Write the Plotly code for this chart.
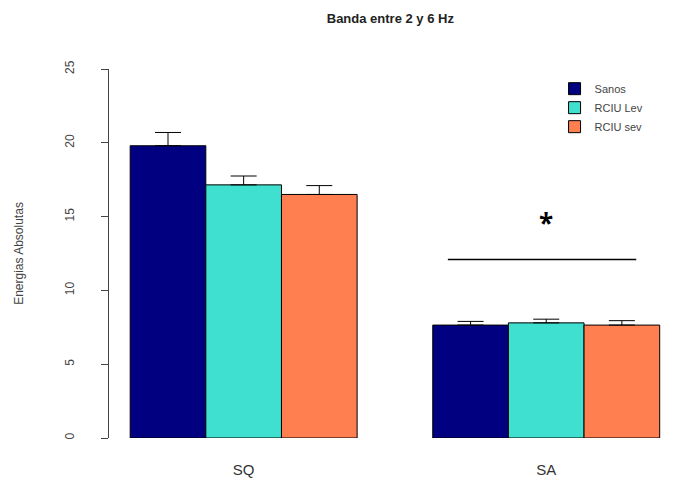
import plotly.graph_objects as go

# ---- data ----
groups = ["SQ", "SA"]
series = ["Sanos", "RCIU Lev", "RCIU sev"]
colors = ["#000080", "#40E0D0", "#FF7F50"]
means = {
    "Sanos":    [19.8, 7.65],
    "RCIU Lev": [17.15, 7.8],
    "RCIU sev": [16.5, 7.65],
}
errors = {
    "Sanos":    [0.9, 0.25],
    "RCIU Lev": [0.6, 0.25],
    "RCIU sev": [0.6, 0.3],
}
y_ticks = [0, 5, 10, 15, 20, 25]
sig_line_y = 12.1
sig_line_x = [5.2, 7.69]
sig_star_y = 14.6

# bar positions like R barplot(beside=TRUE): groups start at 1 and 5
group_starts = [1, 5]

fig = go.Figure()
for i, s in enumerate(series):
    xs = [g + i + 0.5 for g in group_starts]
    fig.add_trace(go.Bar(
        x=xs, y=means[s], width=1, name=s,
        marker=dict(color=colors[i], line=dict(color="black", width=1)),
        error_y=dict(type="data", symmetric=False, array=errors[s],
                     arrayminus=[0] * len(errors[s]), color="black",
                     thickness=1, width=13),
        cliponaxis=False,
    ))

# significance line and star
fig.add_shape(type="line", xref="x", yref="y", x0=sig_line_x[0], x1=sig_line_x[1],
              y0=sig_line_y, y1=sig_line_y, line=dict(color="black", width=1.5))
fig.add_annotation(x=group_starts[1] + 1.5, y=sig_star_y, text="<b>*</b>",
                   showarrow=False, font=dict(size=26, color="black"))

fig.update_layout(
    width=673, height=486,
    margin=dict(l=109, r=0, t=69, b=48),
    paper_bgcolor="white", plot_bgcolor="white",
    barmode="overlay",
    title=dict(text="<b>Banda entre 2 y 6 Hz</b>", x=0.58, xanchor="center",
               y=0.963, yanchor="middle",
               font=dict(family="Liberation Sans, Arial", size=13, color="#222")),
    xaxis=dict(range=[0.72, 8.176], tickvals=[2.5, 6.5], ticktext=groups,
               showgrid=False, zeroline=False, showline=False, ticks="",
               ticklabelstandoff=21,
               tickfont=dict(family="Liberation Sans, Arial", size=15, color="#333")),
    yaxis=dict(range=[0, 25], tickvals=y_ticks, tickangle=-90,
               showgrid=False, zeroline=False, showline=True,
               linecolor="#444", linewidth=1.2,
               ticks="outside", ticklen=7, tickwidth=1.2, tickcolor="#444",
               ticklabelstandoff=22,
               tickfont=dict(family="Liberation Sans, Arial", size=12, color="#444"),
               title=dict(text="Energias Absolutas", standoff=36,
                          font=dict(family="Liberation Sans, Arial", size=12, color="#444"))),
    legend=dict(x=0.79, y=0.986, xanchor="left", yanchor="top",
                bgcolor="rgba(0,0,0,0)", tracegroupgap=0, itemwidth=30,
                font=dict(family="Liberation Sans, Arial", size=11, color="#444")),
    showlegend=True,
)

fig.write_html("out.html")
